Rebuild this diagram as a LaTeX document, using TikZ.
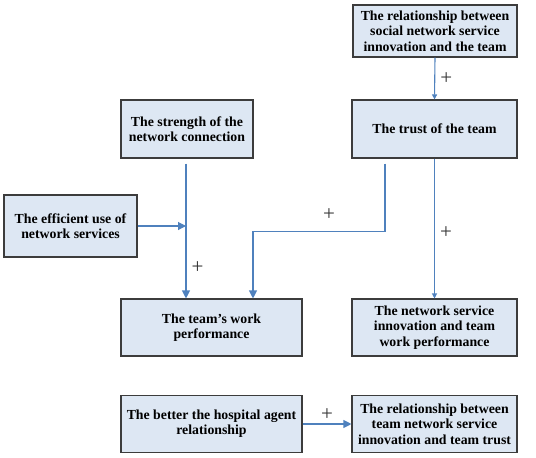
\documentclass[tikz,border=0pt]{standalone}
\usepackage{fontspec}
\setmainfont{Liberation Serif}
\usetikzlibrary{arrows.meta,calc}
\definecolor{boxfill}{RGB}{221,231,243}
\definecolor{boxline}{RGB}{60,60,60}
\definecolor{arr}{RGB}{79,129,189}
\begin{document}
\begin{tikzpicture}[x=1pt,y=-1pt,
  box/.style={draw=boxline,line width=1.1pt,fill=boxfill,align=center,inner sep=2pt,
    font=\bfseries\fontsize{13.8}{15.3}\selectfont},
  conn/.style={draw=arr,line width=1.1pt},
  bigtip/.style={-{Triangle[length=8pt,width=8pt]}},
  smalltip/.style={-{Triangle[length=5pt,width=5pt]}},
  plus/.style={font=\fontsize{21}{21}\selectfont,text=black!80,inner sep=1pt}]
\useasboundingbox (0,0) rectangle (536,458);
\node[box,minimum width=164pt,minimum height=52pt] (A) at (435,31) {The relationship between\\social network service\\innovation and the team};
\node[box,minimum width=165pt,minimum height=58pt] (B) at (434.5,129) {The trust of the team};
\node[box,minimum width=132pt,minimum height=58pt] (C) at (187,129) {The strength of the\\network connection};
\node[box,minimum width=133pt,minimum height=62pt] (D) at (70.5,226) {The efficient use of\\network services};
\node[box,minimum width=181pt,minimum height=57pt] (E) at (211.5,327.5) {The team’s work\\performance};
\node[box,minimum width=165pt,minimum height=57pt] (F) at (434.5,327.5) {The network service\\innovation and team\\work performance};
\node[box,minimum width=181pt,minimum height=57pt] (G) at (211.5,424) {The better the hospital agent\\relationship};
\node[box,minimum width=165pt,minimum height=57pt] (H) at (434.5,424) {The relationship between\\team network service\\innovation and team trust};
% connectors
\draw[conn,smalltip] (A.south) -- (B.north) node[midway,right=4pt,plus] {+};
\coordinate (cs) at ([xshift=-1pt,yshift=-5pt]C.south);
\coordinate (ce) at (E.north -| cs);
\draw[conn,bigtip] (cs) -- (ce) node[pos=0.77,right=4pt,plus] {+};
\coordinate (dj) at (D.east -| cs);
\draw[conn,bigtip] (D.east) -- (dj);
\coordinate (ts) at ([xshift=-49.5pt,yshift=-5pt]B.south);
\coordinate (tb) at ([yshift=-68pt]ts);
\coordinate (te) at ([xshift=41.5pt]E.north);
\draw[conn,bigtip] (ts) -- (tb) -| (te);
\node[plus] (p2) at (329,215) {+};
\draw[conn,smalltip] (B.south) -- (F.north) node[pos=0.53,right=4pt,plus] {+};
\draw[conn,bigtip] (G.east) -- (H.west) node[midway,above=2pt,plus] {+};
\end{tikzpicture}
\end{document}
